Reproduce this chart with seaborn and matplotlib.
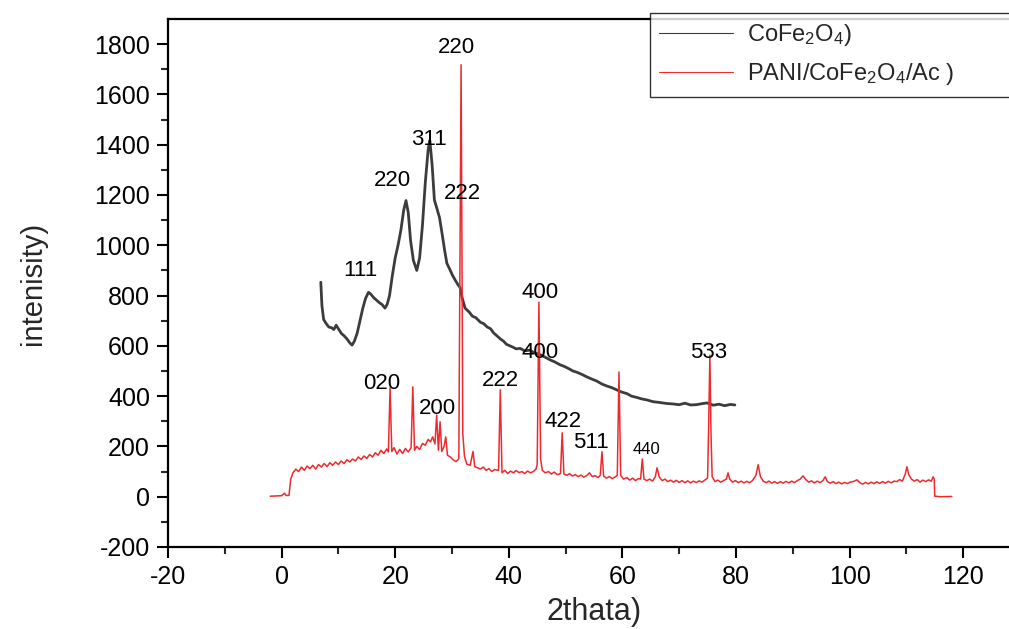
import numpy as np
import pandas as pd
import matplotlib
matplotlib.use("Agg")
import matplotlib.pyplot as plt
import seaborn as sns

# ---- data ----
cofe_x = [6.9, 7.1, 7.4, 7.8, 8.3, 8.8, 9.2, 9.6, 10.0, 10.5, 11.0, 11.5, 12.0, 12.4, 12.8,
          13.3, 13.8, 14.3, 14.8, 15.3, 15.7, 16.2, 16.7, 17.2, 17.7, 18.2, 18.6, 19.0, 19.5,
          20.0, 20.5, 21.0, 21.5, 21.9, 22.3, 22.7, 23.2, 23.8, 24.3, 24.8, 25.3, 25.8, 26.1,
          26.5, 26.9, 27.3, 27.8, 28.3, 28.7, 29.1, 29.6, 30.1, 30.6, 31.0, 31.4, 31.8, 32.3,
          33.0, 33.6, 34.2, 35.0, 35.6, 36.2, 36.8, 37.3, 37.9, 38.5, 39.1, 39.6, 40.2, 40.7,
          41.3, 42.0, 42.8, 43.7, 44.5, 45.5, 46.3, 47.3, 48.1, 49.0, 49.8, 50.5, 51.3, 52.0,
          52.9, 53.8, 54.6, 55.5, 56.4, 57.3, 58.1, 59.0, 59.9, 60.8, 61.6, 62.5, 63.4, 64.3,
          65.4, 66.5, 67.7, 68.9, 70.0, 71.0, 72.0, 73.0, 74.0, 74.9, 76.0, 77.0, 78.0, 79.0,
          79.8]
cofe_y = [853, 760, 705, 690, 675, 672, 665, 682, 668, 650, 640, 628, 612, 603, 618,
          650, 700, 750, 790, 813, 806, 792, 782, 772, 764, 750, 766, 800, 880,
          950, 1000, 1060, 1140, 1178, 1130, 1020, 940, 900, 950, 1080, 1250, 1380, 1417,
          1320, 1180, 1150, 1110, 1040, 980, 928, 905, 880, 860, 845, 833, 790, 750,
          735, 718, 712, 694, 688, 675, 668, 652, 640, 628, 618, 606, 600, 595,
          588, 590, 580, 583, 572, 565, 556, 544, 536, 525, 518, 510, 500, 495,
          486, 476, 468, 460, 448, 440, 434, 425, 416, 410, 400, 395, 389, 385,
          378, 375, 371, 369, 366, 372, 365, 366, 370, 373, 364, 368, 362, 367,
          365]

pani_x = [-2.0, -1.0, 0.0, 0.5, 0.8, 1.3, 1.6, 2.0, 2.5, 3.0, 3.5, 4.0, 4.5, 5.0, 5.5,
          6.0, 6.5, 7.0, 7.5, 8.0, 8.5, 9.0, 9.5, 10.0, 10.5, 11.0, 11.5, 12.0, 12.5, 13.0,
          13.5, 14.0, 14.5, 15.0, 15.5, 16.0, 16.5, 17.0, 17.5, 18.0, 18.5, 18.8, 19.1, 19.4,
          19.8, 20.3, 20.8, 21.3, 21.8, 22.3, 22.8, 23.1, 23.4, 23.8, 24.3, 24.8, 25.3, 25.8,
          26.2, 26.6, 27.0, 27.3, 27.6, 27.9, 28.2, 28.6, 28.9, 29.2, 29.7, 30.2, 30.7, 31.2,
          31.6, 31.9, 32.2, 32.6, 33.2, 33.7, 34.0, 34.5, 35.0, 35.5, 36.0, 36.5, 37.0, 37.5,
          38.2, 38.5, 38.8, 39.3, 39.8, 40.3, 40.8, 41.3, 41.8, 42.3, 42.8, 43.3, 43.8, 44.3,
          44.8, 45.0, 45.3, 45.6, 45.9, 46.4, 47.0, 47.5, 48.0, 48.5, 49.1, 49.4, 49.7, 50.2,
          50.7, 51.2, 51.7, 52.2, 52.7, 53.2, 53.7, 54.2, 54.7, 55.2, 55.7, 56.1, 56.4, 56.7,
          57.2, 57.7, 58.2, 58.7, 59.1, 59.4, 59.7, 60.2, 60.8, 61.3, 61.8, 62.3, 62.8, 63.2,
          63.5, 63.8, 64.3, 64.8, 65.3, 65.8, 66.1, 66.5, 67.0, 67.5, 68.0, 68.5, 69.0, 69.5,
          70.0, 70.5, 71.0, 71.5, 72.0, 72.5, 73.0, 73.5, 74.0, 74.5, 75.0, 75.2, 75.4, 75.6,
          75.8, 76.3, 76.8, 77.3, 77.8, 78.3, 78.6, 78.9, 79.4, 79.9, 80.4, 80.9, 81.4, 81.9,
          82.4, 82.9, 83.5, 83.9, 84.3, 84.8, 85.3, 85.8, 86.3, 86.8, 87.3, 87.8, 88.3, 88.8,
          89.3, 89.8, 90.3, 90.8, 91.3, 91.8, 92.3, 92.8, 93.3, 93.8, 94.3, 94.8, 95.3, 95.7,
          96.1, 96.6, 97.1, 97.6, 98.1, 98.6, 99.1, 99.6, 100.1, 100.6, 101.3, 101.8, 102.3,
          102.8, 103.3, 103.8, 104.3, 104.8, 105.3, 105.8, 106.3, 106.8, 107.3, 107.8, 108.3,
          108.8, 109.3, 109.8, 110.1, 110.4, 110.9, 111.4, 111.9, 112.4, 112.9, 113.4, 113.9,
          114.4, 114.7, 114.9, 115.0, 116.0, 118.0]
pani_y = [2, 3, 4, 14, 5, 5, 70, 95, 110, 100, 118, 105, 122, 112, 125,
          110, 128, 118, 132, 120, 135, 125, 138, 128, 142, 132, 147, 138, 150, 142,
          158, 148, 162, 152, 168, 158, 175, 165, 185, 172, 190, 178, 433, 180,
          195, 170, 188, 172, 192, 178, 195, 437, 185, 200, 188, 212, 205, 228,
          218, 238, 210, 325, 185, 298, 180, 200, 238, 165, 158, 147, 140, 150,
          1718, 250, 160, 130, 125, 180, 120, 115, 110, 118, 105, 112, 100, 108,
          105, 425, 95, 105, 92, 102, 95, 104, 96, 100, 92, 102, 95, 100,
          110, 130, 774, 150, 105, 95, 100, 90, 98, 88, 92, 254, 90, 85,
          92, 82, 88, 80, 86, 78, 84, 95, 80, 84, 76, 85, 179, 82,
          74, 80, 72, 78, 85, 496, 85, 70, 76, 66, 74, 64, 72, 70,
          150, 70, 64, 70, 62, 80, 115, 78, 64, 70, 60, 66, 58, 65,
          57, 64, 56, 63, 55, 62, 56, 63, 58, 66, 75, 300, 563, 250,
          80, 60, 66, 58, 64, 70, 95, 70, 58, 64, 56, 62, 55, 61,
          56, 64, 85, 127, 80, 62, 56, 62, 54, 60, 53, 60, 54, 61,
          55, 62, 56, 64, 70, 83, 68, 58, 63, 55, 62, 56, 64, 79,
          60, 54, 60, 52, 58, 51, 57, 52, 58, 60, 67, 56, 50,
          57, 51, 58, 52, 59, 53, 60, 54, 61, 55, 62, 60,
          68, 62, 90, 119, 88, 70, 62, 68, 58, 66, 60, 67,
          62, 79, 70, 2, 0, 1]

series_names = ["CoFe$_2$O$_4$)", "PANI/CoFe$_2$O$_4$/Ac )"]
xtick_vals = [-20, 0, 20, 40, 60, 80, 100, 120]
ytick_vals = [-200, 0, 200, 400, 600, 800, 1000, 1200, 1400, 1600, 1800]

label_text = ["111", "220", "311", "222", "220", "400", "400", "533",
              "020", "200", "222", "422", "511", "440"]
label_x = [13.8, 19.6, 26.0, 31.8, 30.7, 45.5, 45.5, 75.2,
           17.7, 27.5, 38.5, 49.5, 54.5, 64.3]
label_y = [901, 1258, 1421, 1206, 1786, 813, 575, 575,
           452, 349, 464, 298, 214, 187]

# ---- plotting ----
sns.set_theme(style="ticks")
plt.rcParams["font.family"] = ["Liberation Sans", "DejaVu Sans"]
plt.rcParams["mathtext.fontset"] = "custom"
plt.rcParams["mathtext.rm"] = "Liberation Sans"
plt.rcParams["mathtext.it"] = "Liberation Sans"
plt.rcParams["mathtext.default"] = "regular"
plt.rcParams["axes.unicode_minus"] = False

df1 = pd.DataFrame({"x": cofe_x, "y": cofe_y, "s": series_names[0]})
df2 = pd.DataFrame({"x": pani_x, "y": pani_y, "s": series_names[1]})

fig = plt.figure(figsize=(10.09, 6.29), dpi=100)
ax = fig.add_axes([168 / 1009, 82 / 629, (1020 - 168) / 1009, (547 - 19) / 629])

sns.lineplot(data=df1, x="x", y="y", ax=ax, color="#3c3c3c", lw=2.0,
             sort=False, estimator=None, label=series_names[0])
sns.lineplot(data=df2, x="x", y="y", ax=ax, color="#ee2a2f", lw=1.1,
             sort=False, estimator=None, label=series_names[1])

ax.set_xlim(-20, 130)
ax.set_ylim(-200, 1900)
ax.set_xticks(xtick_vals)
ax.set_yticks(ytick_vals)
ax.set_xticks(np.arange(-10, 130, 20), minor=True)
ax.set_yticks(np.arange(-100, 1900, 200), minor=True)
ax.tick_params(axis="both", which="major", direction="out", length=8, width=1.5,
               labelsize=18, colors="black", pad=5)
ax.tick_params(axis="both", which="minor", direction="out", length=5, width=1.5)
for side in ["left", "bottom", "top"]:
    ax.spines[side].set_linewidth(1.6)
    ax.spines[side].set_color("black")
ax.spines["right"].set_visible(False)

ax.set_xlabel("2thata)", fontsize=22, labelpad=6)
ax.set_ylabel("intenisity)", fontsize=21, labelpad=34)

for t, xv, yv in zip(label_text, label_x, label_y):
    fs = 12 if t == "440" and xv > 60 else 16
    ax.text(xv, yv, t, ha="center", va="center", fontsize=fs, color="black")

ax.get_legend().remove()
handles, labels = ax.get_legend_handles_labels()
leg = fig.legend(handles, labels, loc="upper left",
                 bbox_to_anchor=(650 / 1009, 1 - 95 / 629, 400 / 1009, 82 / 629),
                 mode="expand", fontsize=17, frameon=True, fancybox=False, edgecolor="black",
                 handlelength=3.1, handletextpad=0.6, borderpad=0.4, labelspacing=0.55,
                 borderaxespad=0)
leg.get_frame().set_linewidth(1.0)
for line in leg.get_lines():
    line.set_linewidth(0.8)

fig.savefig("out.png", dpi=100)
